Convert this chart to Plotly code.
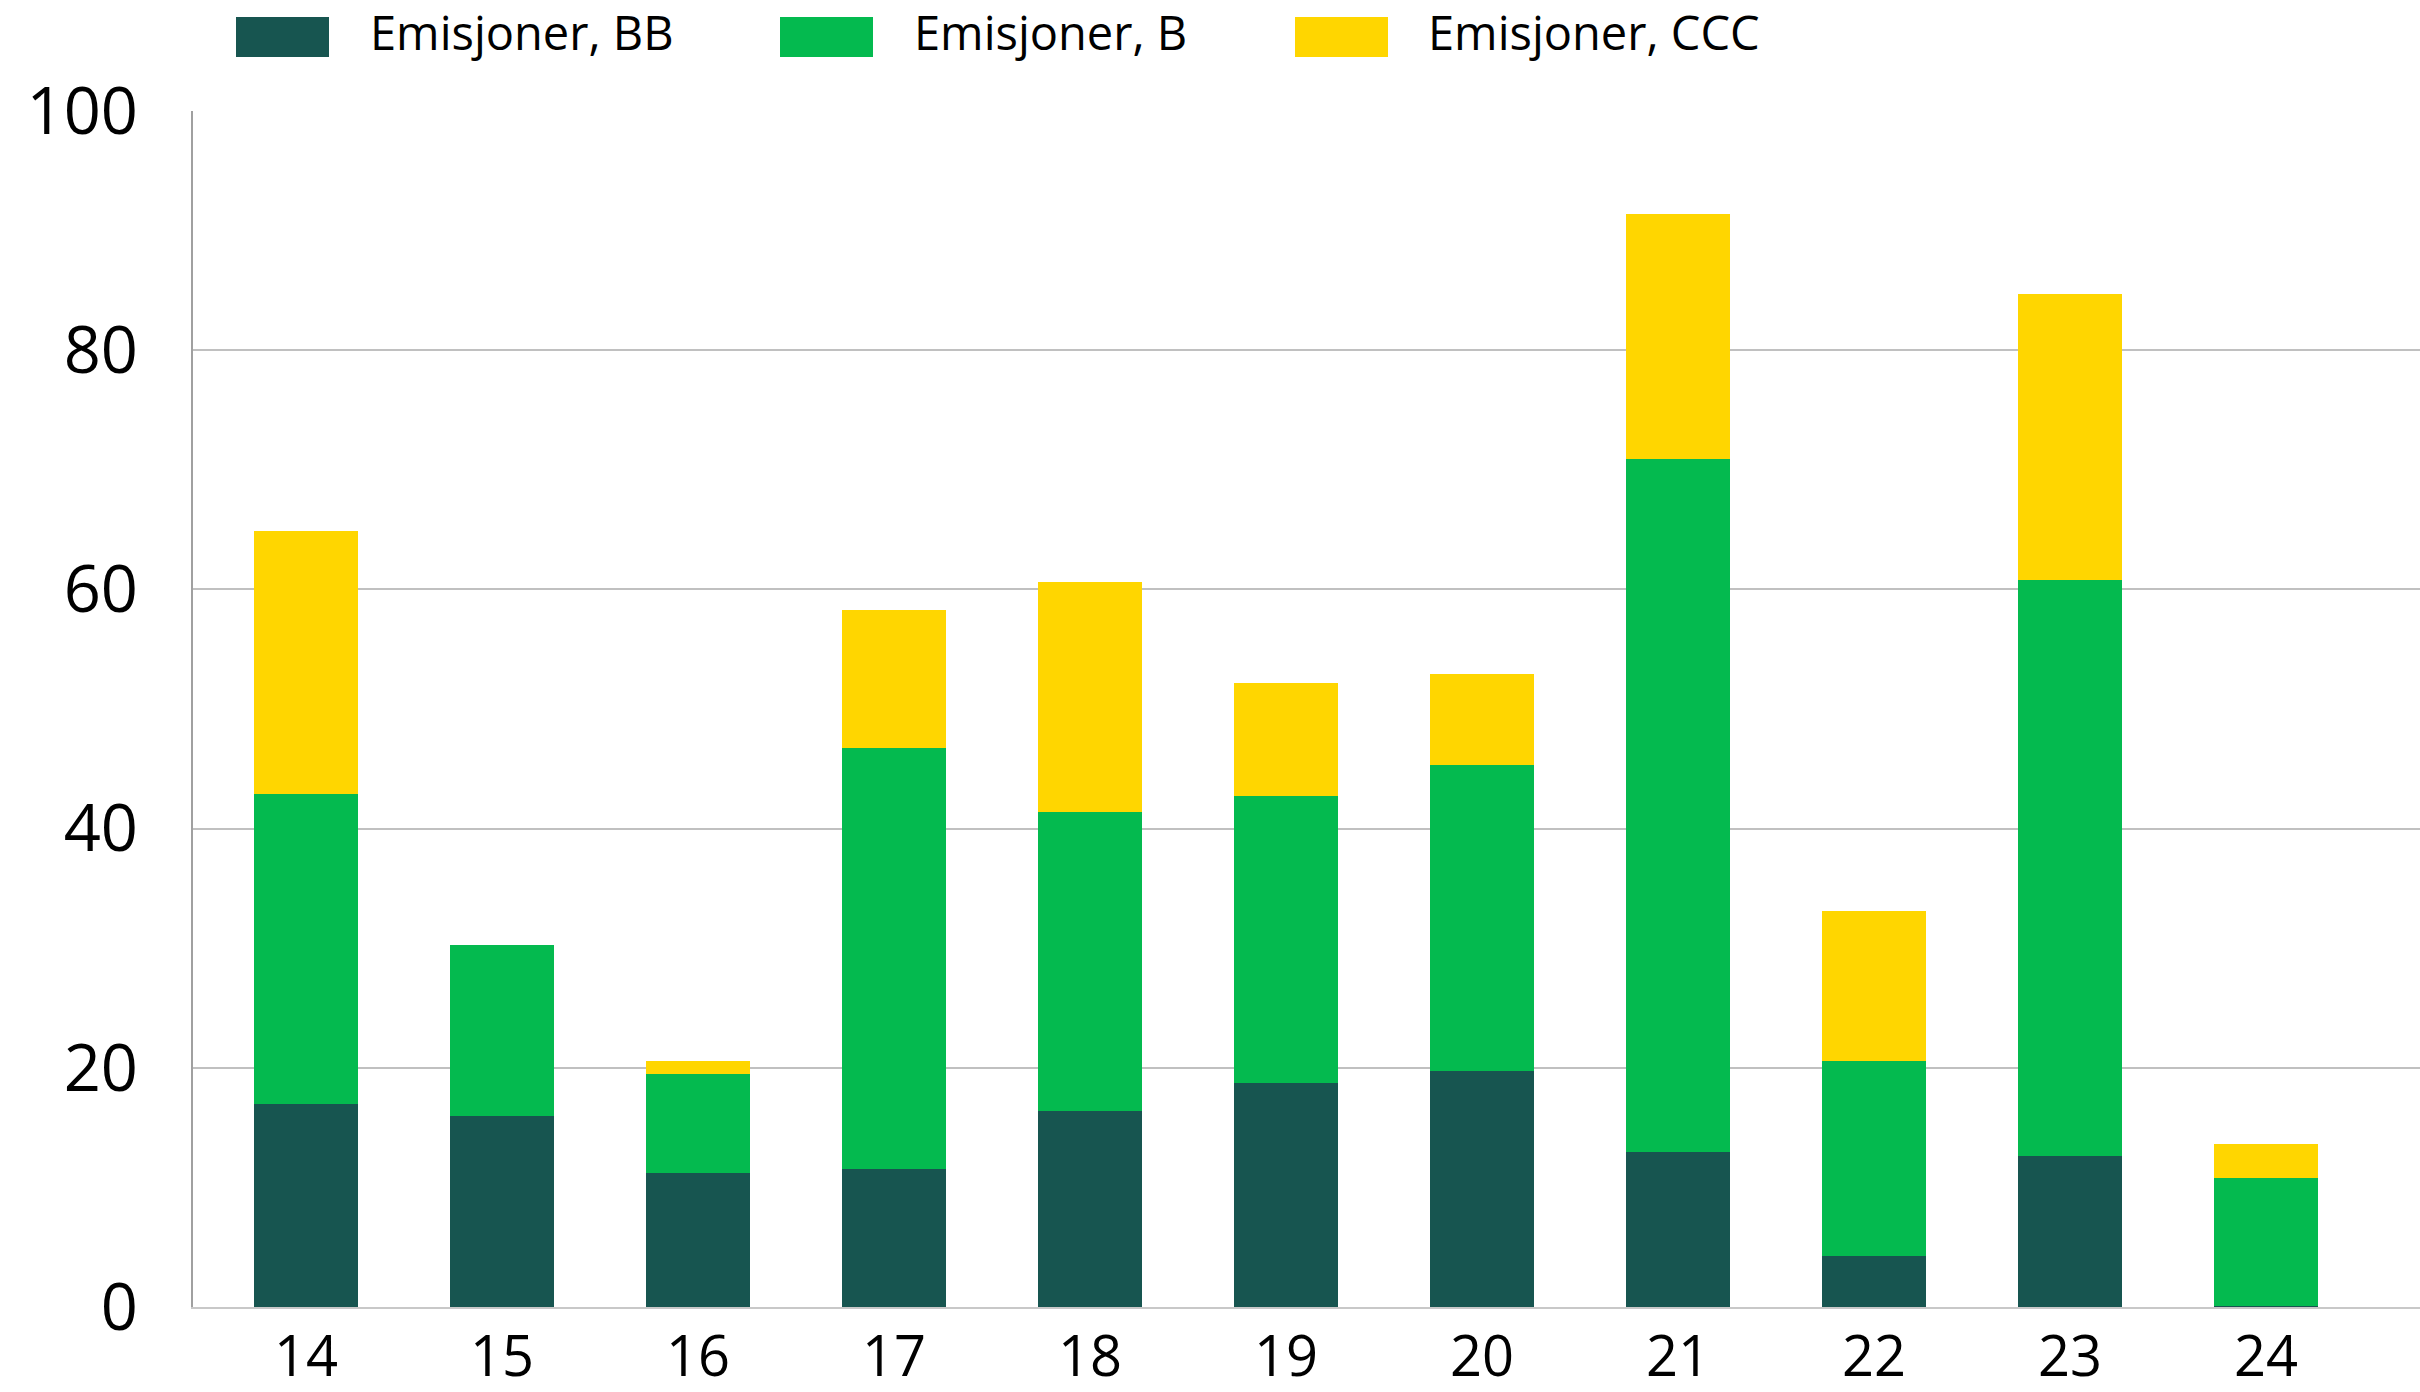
import plotly.graph_objects as go

categories = ["14", "15", "16", "17", "18", "19", "20", "21", "22", "23", "24"]
bb = [17.0, 16.0, 11.2, 11.5, 16.4, 18.7, 19.7, 13.0, 4.3, 12.6, 0.1]
b = [25.9, 14.3, 8.3, 35.2, 25.0, 24.0, 25.6, 57.9, 16.3, 48.2, 10.7]
ccc = [22.0, 0.0, 1.1, 11.6, 19.2, 9.5, 7.6, 20.5, 12.5, 23.9, 2.8]
series_names = ["Emisjoner, BB", "Emisjoner, B", "Emisjoner, CCC"]
y_ticks = [0, 20, 40, 60, 80, 100]

colors = ["#175550", "#04BA4F", "#FFD600"]
FONT = "Open Sans"

W, H = 2420, 1392
L, R, T, B = 193, 0, 111, 85
PW, PH = W - L - R, H - T - B

fig = go.Figure()
for name, vals, col in zip(series_names, [bb, b, ccc], colors):
    fig.add_trace(go.Bar(x=categories, y=vals, name=name, marker=dict(color=col, line=dict(width=0)),
                         width=0.53, showlegend=False))

def px_x(p):
    return (p - L) / PW

def px_y(p):
    return (H - B - p) / PH

# custom legend (wide swatches)
legend_items = [(236, 368), (780, 912), (1295, 1426)]
for (sx, tx), name, col in zip(legend_items, series_names, colors):
    fig.add_shape(type="rect", xref="paper", yref="paper",
                  x0=px_x(sx), x1=px_x(sx + 93), y0=px_y(57), y1=px_y(17),
                  fillcolor=col, line=dict(width=0), layer="above")
    fig.add_annotation(xref="paper", yref="paper", x=px_x(tx), y=px_y(32),
                       xanchor="left", yanchor="middle", text=name, showarrow=False,
                       font=dict(family=FONT, size=47, color="#000000"))

fig.update_layout(
    width=W, height=H,
    margin=dict(l=L, r=R, t=T, b=B, autoexpand=False),
    barmode="stack",
    bargap=0.47,
    plot_bgcolor="white", paper_bgcolor="white",
    font=dict(family=FONT, size=56, color="#000000"),
    xaxis=dict(type="category", range=[-0.577, 10.786], showline=True, linecolor="#C8C8C8", linewidth=2,
               showgrid=False, ticks="", ticklabelstandoff=0, tickfont=dict(size=56)),
    yaxis=dict(range=[0, 100], tickvals=y_ticks, showline=True, linecolor="#A0A0A0", linewidth=2,
               showgrid=True, gridcolor="#C0C0C0", gridwidth=2, zeroline=False, ticks="",
               ticklabelstandoff=40, tickfont=dict(size=65)),
)

fig.write_html("out.html", config={"displayModeBar": False},
               post_script="document.body.style.margin='0';document.body.style.overflow='hidden';")
